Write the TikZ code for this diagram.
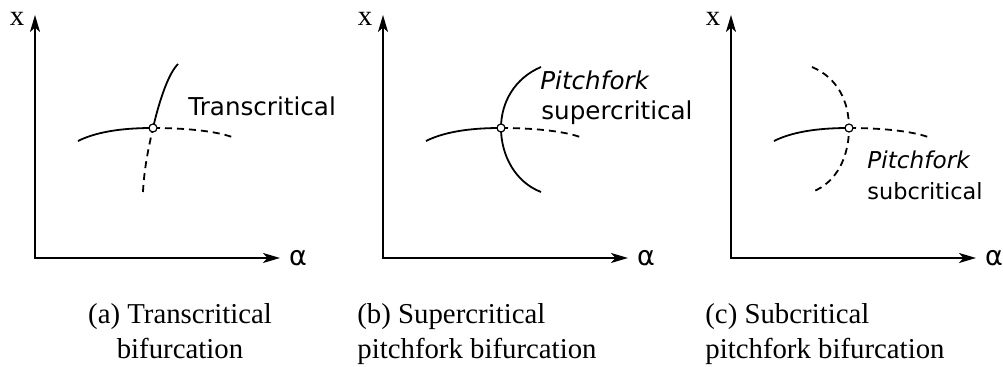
\documentclass[tikz,border=0pt]{standalone}
\usepackage{fontspec}
\setmainfont{Liberation Serif}
\newfontfamily\sanslab{DejaVu Sans}
\usetikzlibrary{arrows.meta, positioning}

\begin{document}
\begin{tikzpicture}[
  x=0.5pt, y=-0.5pt,
  >={Stealth[length=8.5pt, width=5pt, inset=2.2pt]},
  axis/.style={<->, line width=1pt},
  branch/.style={line width=0.9pt},
  unstable/.style={branch, dash pattern=on 3.5pt off 2.5pt},
  bifpt/.style={circle, draw, fill=white, inner sep=0pt, minimum size=4pt, line width=0.6pt},
  axlab/.style={inner sep=0pt, font=\fontsize{14.4}{17}\selectfont},
  alab/.style={inner sep=0pt, font=\sanslab\fontsize{13.5}{16}\selectfont},
  blab/.style={anchor=base west, inner sep=0pt, font=\sanslab\fontsize{12.3}{15}\selectfont},
  capt/.style={inner sep=0pt, font=\fontsize{14.4}{17.5}\selectfont},
]
  \useasboundingbox (0,0) rectangle (1003,367);

  % (a) transcritical
  \begin{scope}[shift={(35,0)}]
    \coordinate (Oa) at (0,258);
    \coordinate (Ya) at (0,15);
    \coordinate (Ra) at (245,258);
    \draw[axis] (Ya) -- (Oa) -- (Ra);
    \node[axlab] (xa) at (-18,19) {x};
    \node[alab] (aa) at (263,258) {α};
    \coordinate (Pa) at (118,128);
    \draw[branch] (43,141) .. controls (65,130) and (95,128) .. (Pa);
    \draw[unstable] (Pa) .. controls (150,128) and (180,131) .. (197,137);
    \draw[unstable] (108,192) .. controls (109,170) and (113,150) .. (Pa);
    \draw[branch] (Pa) .. controls (124,102) and (133,74) .. (143,64);
    \node[bifpt] (Ca) at (Pa) {};
    \node[blab] (ta) at (153,116) {Transcritical};
  \end{scope}

  % (b) supercritical pitchfork
  \begin{scope}[shift={(383,0)}]
    \coordinate (Ob) at (0,258);
    \coordinate (Yb) at (0,15);
    \coordinate (Rb) at (245,258);
    \draw[axis] (Yb) -- (Ob) -- (Rb);
    \node[axlab] (xb) at (-18,19) {x};
    \node[alab] (ab) at (263,258) {α};
    \coordinate (Pb) at (118,128);
    \draw[branch] (43,141) .. controls (65,130) and (95,128) .. (Pb);
    \draw[unstable] (Pb) .. controls (150,128) and (180,131) .. (197,137);
    \draw[branch] (158,67) .. controls (132,78) and (118,102) .. (Pb)
      .. controls (118,155) and (132,182) .. (158,192);
    \node[bifpt] (Cb) at (Pb) {};
    \node[blab] (pb) at (157,90) {\itshape Pitchfork};
    \node[blab] (sb) at (158,120) {supercritical};
  \end{scope}

  % (c) subcritical pitchfork
  \begin{scope}[shift={(731,0)}]
    \coordinate (Oc) at (0,258);
    \coordinate (Yc) at (0,15);
    \coordinate (Rc) at (245,258);
    \draw[axis] (Yc) -- (Oc) -- (Rc);
    \node[axlab] (xc) at (-18,19) {x};
    \node[alab] (ac) at (263,258) {α};
    \coordinate (Pc) at (118,128);
    \draw[branch] (43,141) .. controls (65,130) and (95,128) .. (Pc);
    \draw[unstable] (Pc) .. controls (150,128) and (180,131) .. (197,137);
    \draw[unstable] (81,67) .. controls (107,78) and (118,102) .. (Pc)
      .. controls (118,155) and (107,182) .. (81,192);
    \node[bifpt] (Cc) at (Pc) {};
    \node[blab, font=\sanslab\fontsize{11.6}{14}\selectfont] (pc) at (136,169) {\itshape Pitchfork};
    \node[blab, font=\sanslab\fontsize{11.2}{14}\selectfont] (sc) at (136,200) {subcritical};
  \end{scope}

  % captions
  \node[capt, anchor=north, align=center] (capa) at (180,303) {(a) Transcritical\\bifurcation};
  \node[capt, anchor=north west, align=left] (capb) at (357,303) {(b) Supercritical\\pitchfork bifurcation};
  \node[capt, anchor=north west, align=left] (capc) at (705,303) {(c) Subcritical\\pitchfork bifurcation};
\end{tikzpicture}
\end{document}
